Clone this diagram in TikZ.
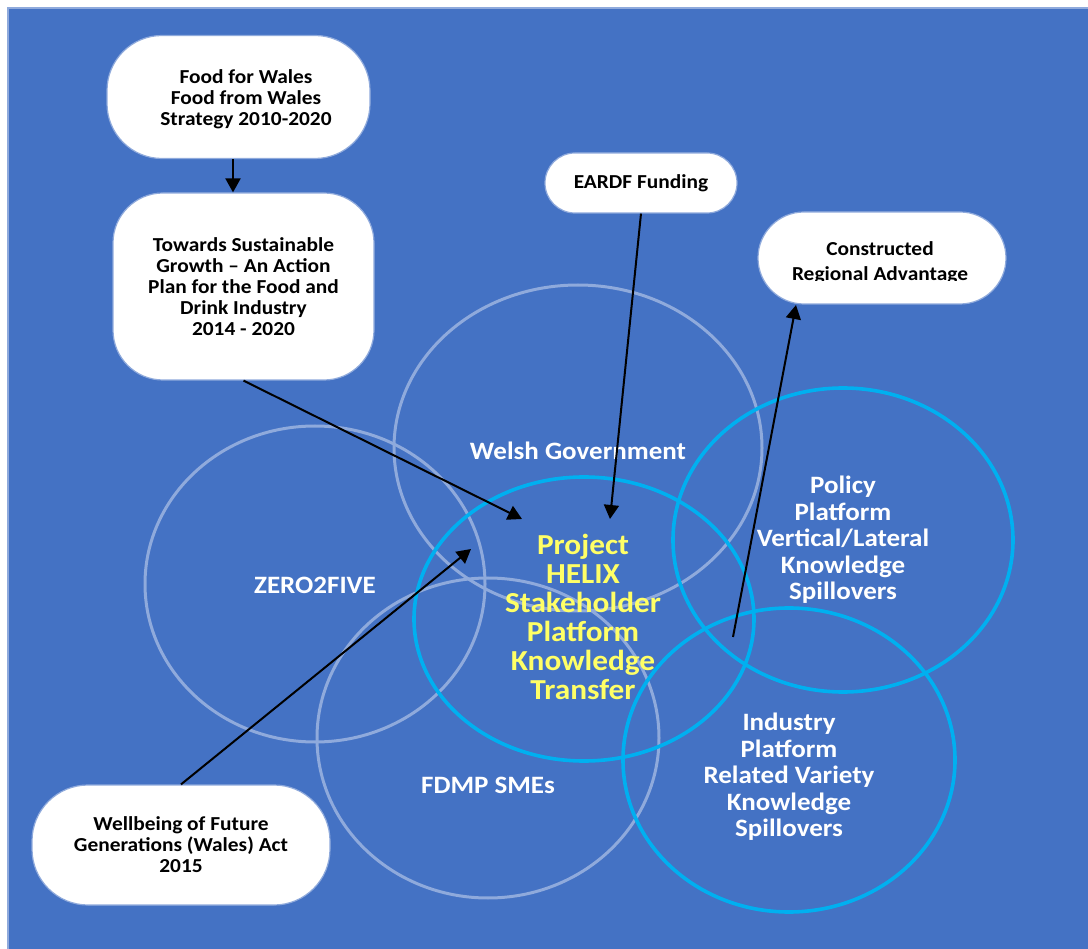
\documentclass[tikz,border=0pt]{standalone}
\usepackage{fontspec}
\setmainfont{Carlito}[FakeStretch=1.08]
\usetikzlibrary{arrows.meta}
\definecolor{bg}{HTML}{4472C4}
\definecolor{lav}{HTML}{8FAADC}
\definecolor{cyanring}{HTML}{00B0F0}
\definecolor{helixyellow}{HTML}{FFFF66}
\begin{document}
\begin{tikzpicture}[x=1pt,y=-1pt,
  ring/.style={draw=lav, line width=3pt},
  cring/.style={draw=cyanring, line width=3.6pt},
  doc/.style={draw=lav, line width=1.2pt, fill=white, inner sep=0pt, align=center,
    font=\fontsize{19.8}{21}\selectfont\bfseries},
  doctext/.style={inner sep=0pt, align=center, font=\fontsize{19.8}{25}\selectfont\bfseries},
  lbl/.style={text=white, inner sep=0pt, align=center, font=\fontsize{25}{26.5}\selectfont\bfseries},
  hlbl/.style={text=helixyellow, inner sep=0pt, align=center, font=\fontsize{29}{29}\selectfont\bfseries},
  flow/.style={-{Triangle[length=14pt,width=15pt]}, line width=2pt, black}]

\useasboundingbox (0,0) rectangle (1088,949);
% page and blue panel
\fill[white] (0,0) rectangle (1088,949);
\fill[bg] (8,8) rectangle (1088,949);
\draw[lav, line width=1.5pt] (8,949) -- (8,8) -- (1088,8);

% stakeholder rings
\draw[ring] (578,448) ellipse [x radius=184pt, y radius=163pt];
\draw[ring] (315,584) ellipse [x radius=170pt, y radius=158pt];
\draw[ring] (488,738) ellipse [x radius=171pt, y radius=160pt];
\draw[cring] (584,619) ellipse [x radius=170pt, y radius=142pt];
\draw[cring] (843,540) ellipse [x radius=170pt, y radius=152pt];
\draw[cring] (789,760) ellipse [x radius=166pt, y radius=152pt];

% ring labels
\node[lbl] (wg) at (578,451) {Welsh Government};
\node[lbl] (z2f) at (315,585) {ZERO2FIVE};
\node[lbl] (fdmp) at (488,785) {FDMP SMEs};
\node[hlbl] (helix) at (583,617) {Project\\HELIX\\Stakeholder\\Platform\\Knowledge\\Transfer};
\node[lbl] (policy) at (843,540) {Policy\\Platform\\Vertical/Lateral\\Knowledge\\Spillovers};
\node[lbl] (industry) at (789,777) {Industry\\Platform\\Related Variety\\Knowledge\\Spillovers};

% documents and outcomes
\node[doc, rounded corners=55pt, minimum width=263pt, minimum height=123pt] (ffw) at (238.5,97) {};
\node[inner sep=0pt, align=center, font=\fontsize{19.8}{21}\selectfont\bfseries] (ffwtext) at (246,99)
  {Food for Wales\\Food from Wales\\Strategy 2010-2020};
\node[doc, rounded corners=50pt, minimum width=261pt, minimum height=187pt] (tsg) at (243.5,286.5)
  {Towards Sustainable\\Growth -- An Action\\Plan for the Food and\\Drink Industry\\2014 - 2020};
\node[doc, rounded corners=30pt, minimum width=192pt, minimum height=60pt] (eardf) at (641,183)
  {EARDF Funding};
\node[doc, rounded corners=46pt, minimum width=248pt, minimum height=92pt] (cra) at (882,258) {};
\begin{scope}
  \clip (758,212) rectangle (1006,281);
  \node[doctext] (cratext) at (880,263) {Constructed\\Regional Advantage};
\end{scope}
\node[doc, rounded corners=56pt, minimum width=298pt, minimum height=120pt] (wfg) at (181,845)
  {Wellbeing of Future\\Generations (Wales) Act\\2015};

% connectors
\coordinate (ax) at (233,0);
\coordinate (tipA) at (522,519);
\coordinate (tipB) at (610,519);
\coordinate (tipC) at (471,549);
\coordinate (spill) at (733,637);
\coordinate (tipD) at (796,305);
\draw[flow] (ffw.south -| ax) -- (tsg.north -| ax);
\draw[flow] (tsg.south) -- (tipA);
\draw[flow] (eardf.south) -- (tipB);
\draw[flow] (wfg.north) -- (tipC);
\draw[flow] (spill) -- (tipD);
\end{tikzpicture}
\end{document}
